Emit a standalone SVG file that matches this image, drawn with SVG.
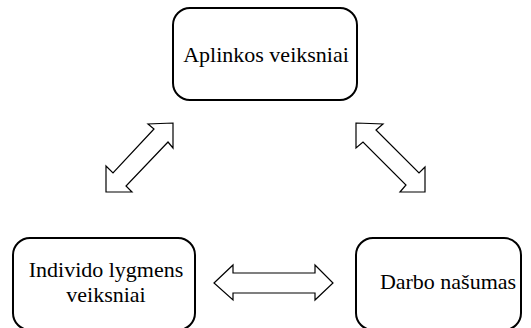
<svg xmlns="http://www.w3.org/2000/svg" width="531" height="328" viewBox="0 0 531 328">
  <style>
    .box { fill: #ffffff; stroke: #000000; stroke-width: 2; }
    .lbl { font-family: "Liberation Serif", "Times New Roman", serif; font-size: 22px; fill: #000000; text-anchor: middle; }
    .arrow { fill: #ffffff; stroke: #000000; stroke-width: 1.2; stroke-linejoin: miter; }
  </style>
  <rect width="531" height="328" fill="#ffffff"/>

  <g id="node-aplinkos">
    <rect class="box" x="173" y="8" width="184" height="92" rx="17" ry="17"/>
    <text class="lbl" x="266" y="61.5">Aplinkos veiksniai</text>
  </g>

  <g id="node-individo">
    <rect class="box" x="13" y="238" width="182" height="92" rx="17" ry="17"/>
    <text class="lbl" x="106" y="277">Individo lygmens</text>
    <text class="lbl" x="106" y="302">veiksniai</text>
  </g>

  <g id="node-darbo">
    <rect class="box" x="356" y="238" width="165" height="92" rx="17" ry="17"/>
    <text class="lbl" x="448" y="289">Darbo našumas</text>
  </g>

  <g id="connectors">
    <!-- left diagonal two-way block arrow -->
    <polygon class="arrow" points="173,123 173,148 168,142 126,186 132,192 106,192 106,166 113,173 154,129 148,124"/>
    <!-- right diagonal two-way block arrow -->
    <polygon class="arrow" points="356,123 383,124 376,130 419,173 425,167 425,192 400,192 406,185 363,142 356,148"/>
    <!-- horizontal two-way block arrow -->
    <polygon class="arrow" points="214,283 233,265 233,273 315,273 315,265 333,283 315,300 315,293 233,293 233,300"/>
  </g>
</svg>
